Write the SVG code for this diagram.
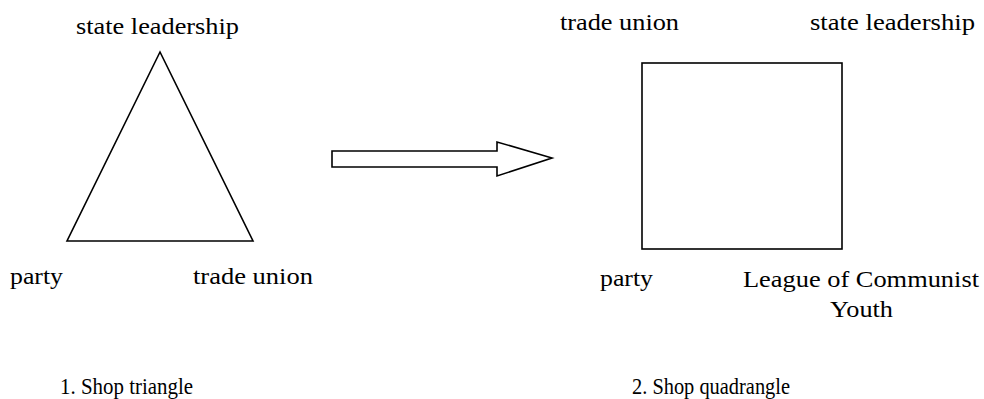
<svg xmlns="http://www.w3.org/2000/svg" width="984" height="399" viewBox="0 0 984 399">
  <style>
    .shape { fill: #ffffff; stroke: #000000; stroke-width: 1.6; stroke-linejoin: miter; }
    .lbl { font-family: "Liberation Serif", "Times New Roman", serif; font-size: 24px; fill: #000000; }
  </style>
  <rect width="984" height="399" fill="#ffffff"/>

  <!-- Shop triangle -->
  <g id="triangle">
    <polygon class="shape" points="160,52 67,241 253,241"/>
    <text class="lbl" x="76" y="34" textLength="163" lengthAdjust="spacingAndGlyphs">state leadership</text>
    <text class="lbl" x="10" y="284" textLength="53" lengthAdjust="spacingAndGlyphs">party</text>
    <text class="lbl" x="193" y="284" textLength="120" lengthAdjust="spacingAndGlyphs">trade union</text>
    <text class="lbl" x="60" y="394" textLength="133" lengthAdjust="spacingAndGlyphs">1. Shop triangle</text>
  </g>

  <!-- Transition arrow -->
  <g id="connectors">
    <polygon class="shape" points="332,151 497,151 497,142 552,158 497,176 497,167 332,167"/>
  </g>

  <!-- Shop quadrangle -->
  <g id="quadrangle">
    <rect class="shape" x="642" y="63" width="200" height="186"/>
    <text class="lbl" x="560" y="30" textLength="119" lengthAdjust="spacingAndGlyphs">trade union</text>
    <text class="lbl" x="810" y="30" textLength="165" lengthAdjust="spacingAndGlyphs">state leadership</text>
    <text class="lbl" x="600" y="286" textLength="53" lengthAdjust="spacingAndGlyphs">party</text>
    <text class="lbl" x="743" y="287" textLength="236" lengthAdjust="spacingAndGlyphs">League of Communist</text>
    <text class="lbl" x="830" y="317" textLength="63" lengthAdjust="spacingAndGlyphs">Youth</text>
    <text class="lbl" x="632" y="394" textLength="158" lengthAdjust="spacingAndGlyphs">2. Shop quadrangle</text>
  </g>
</svg>
